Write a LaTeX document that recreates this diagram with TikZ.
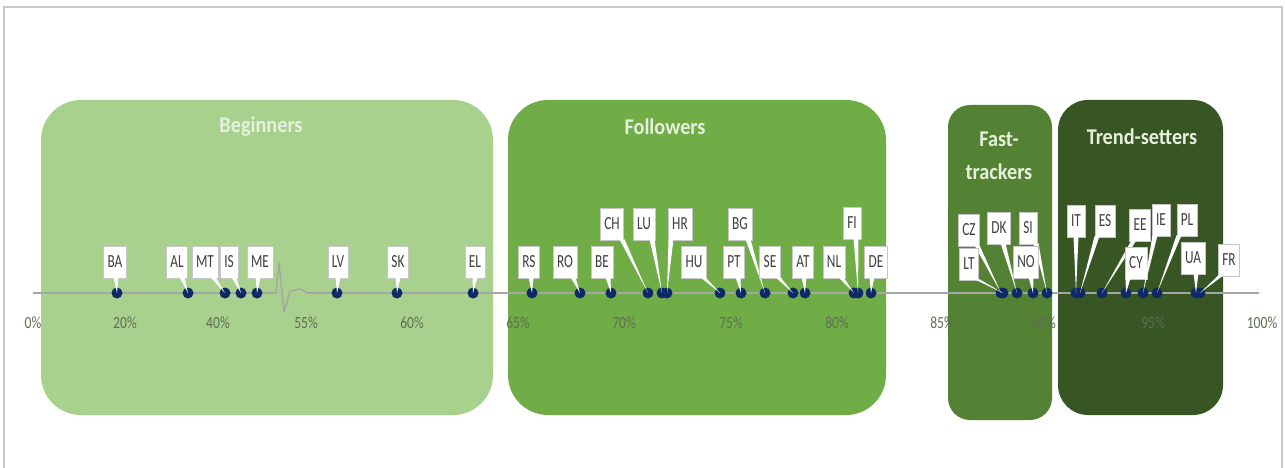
\documentclass[tikz,border=0pt]{standalone}
\usepackage{fontspec}
\setmainfont{Carlito}
\newfontfamily\lblfont[FakeStretch=0.72]{Carlito}
\newfontfamily\ttlfont[FakeStretch=0.9]{Carlito}
\newfontfamily\tickfont[FakeStretch=0.8]{Carlito}
\definecolor{cBeg}{HTML}{A9D18E}
\definecolor{cFol}{HTML}{70AD47}
\definecolor{cFast}{HTML}{548235}
\definecolor{cTrend}{HTML}{375623}
\definecolor{cAxis}{HTML}{A6A6A6}
\definecolor{cMk}{HTML}{0E2A66}
\definecolor{cTxt}{HTML}{404040}
\definecolor{cTick}{HTML}{5E6E52}
\definecolor{cTitle}{HTML}{E6F0DD}
\definecolor{cFrame}{HTML}{C8C8C8}
\tikzset{
  grp/.style={fill=#1, draw=none, rectangle, inner sep=0pt},
  ttl/.style={text=cTitle, font=\ttlfont\bfseries\fontsize{22.5}{33}\selectfont, inner sep=0pt},
  tick/.style={text=cTick, font=\tickfont\fontsize{17}{17}\selectfont, inner sep=0pt},
  mk/.style={circle, fill=cMk, draw=none, minimum size=11pt, inner sep=0pt},
  lbl/.style={rectangle, fill=white, draw=black!22, line width=0.5pt, inner xsep=4pt, inner ysep=0pt,
              minimum height=32pt, minimum width=18pt, text=cTxt,
              font=\lblfont\fontsize{18.5}{18.5}\selectfont},
  axisline/.style={draw=cAxis, line width=2.2pt},
  breakline/.style={draw=cAxis, line width=1.4pt, line join=round}
}
\begin{document}
\begin{tikzpicture}[x=1pt, y=-1pt]
\useasboundingbox (0,0) rectangle (1285,468);
\fill[white] (0,0) rectangle (1285,468);
% frame
\draw[cFrame, line width=1.2pt] (4,468) -- (4,7) -- (1282,7) -- (1282,468);
% group boxes
\node[grp=cBeg, rounded corners=40pt, minimum width=452pt, minimum height=315pt] (gBeg) at (267,257.5) {};
\node[grp=cFol, rounded corners=40pt, minimum width=378pt, minimum height=315pt] (gFol) at (697,257.5) {};
\node[grp=cFast, rounded corners=22pt, minimum width=104pt, minimum height=315pt] (gFast) at (1000,262.5) {};
\node[grp=cTrend, rounded corners=30pt, minimum width=165pt, minimum height=315pt] (gTrend) at (1140.5,257.5) {};
% titles
\node[ttl] (tBeg) at (261,127) {Beginners};
\node[ttl] (tFol) at (665,127) {Followers};
\node[ttl, align=center] (tFast) at (999,156) {Fast-\\trackers};
\node[ttl] (tTrend) at (1142,137) {Trend-setters};
% axis with break
\coordinate (a0) at (33,293);
\coordinate (a1) at (276,293);
\coordinate (a2) at (308,293);
\coordinate (a3) at (1259,293);
\draw[axisline] (a0) -- (a1);
\draw[breakline] (a1) -- (279,263) -- (284,312) -- (290,291) -- (300,289) -- (a2);
\draw[axisline] (a2) -- (a3);
% tick labels
\foreach \lab/\tx in {0/33, 20/125, 40/218, 55/306, 60/412, 65/518, 70/624, 75/731, 80/837, 85/942, 90/1044, 95/1153, 100/1262}
  \node[tick] (t\lab) at (\tx,323) {\lab\%};
% markers
\foreach \id/\mx in {BA/117, AL/188, MT/225, IS/241, ME/257, LV/337, SK/397, EL/473,
    RS/532, RO/580, BE/611, CH/648, LU/662, HR/667, HU/720, PT/741, BG/765, SE/793, AT/805,
    NL/854, FI/858, DE/871, CZ/1001, LT/1003, DK/1017, NO/1033, SI/1047,
    IT/1076, ES/1080, EE/1102, CY/1126, IE/1143, PL/1157, UA/1196, FR/1200}
  \node[mk] (m-\id) at (\mx,293) {};
% callouts
\foreach \id/\cx/\cy/\dx in {BA/115/262/1, AL/177/262/5, MT/205/262/8, IS/229/262/5, ME/260/262/-2,
    LV/338/262/0, SK/398/262/0, EL/475/262/0, RS/529/262/2, RO/565/262/8, BE/602/262/6,
    CH/612/224/10, LU/644/224/8, HR/680/224/-9, HU/694/262/9, PT/734/262/4,
    BG/740/224/8, SE/770/262/8, AT/803/262/1, NL/834/262/7, FI/852/223/4, DE/876/262/-4,
    CZ/969/230/8, LT/969/264/8, DK/999/228/4, SI/1028/228/8, NO/1026/262/5,
    IT/1076/221/0, ES/1105/221/-8, EE/1140/225/-6, CY/1136/263/-8, IE/1161/220/-6,
    PL/1187/220/-8, UA/1193/258/3, FR/1229/260/-8}
{
  \node[lbl] (l-\id) at (\cx,\cy) {\id};
  \fill[white] ([xshift={\dx-2.5}, yshift=1pt]l-\id.south) -- (m-\id.center)
     -- ([xshift={\dx+2.5}, yshift=1pt]l-\id.south) -- cycle;
}
\end{tikzpicture}
\end{document}
